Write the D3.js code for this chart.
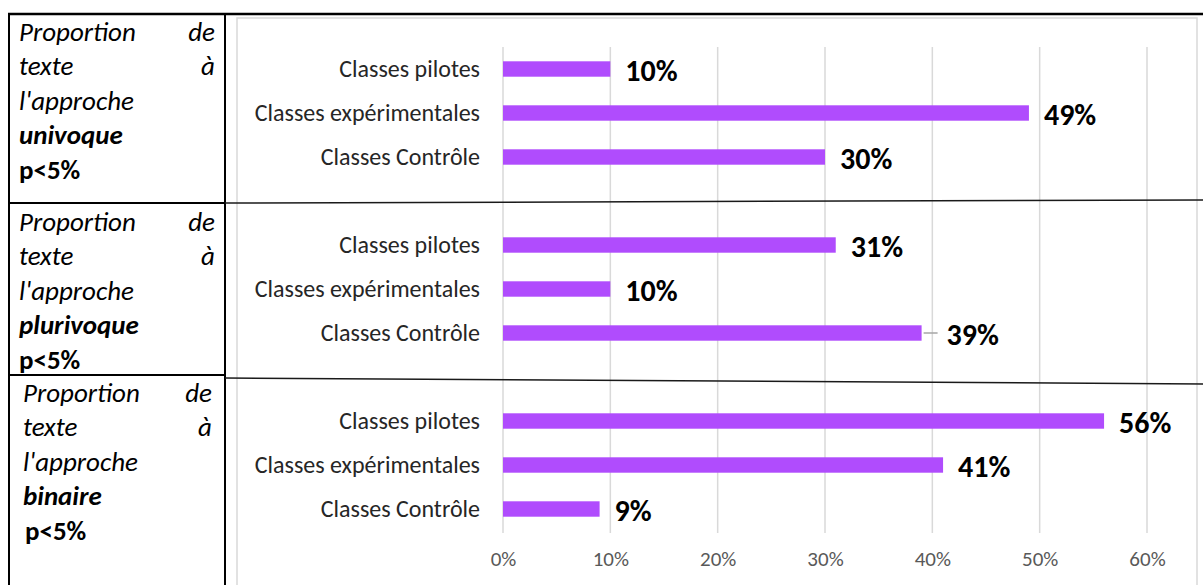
<!DOCTYPE html>
<html>
<head>
<meta charset="utf-8">
<script src="https://cdn.jsdelivr.net/npm/d3@7"></script>
<style>
    body { margin: 0; background: #fff; }
    svg { display: block; }
    text { font-family: Carlito, Calibri, Lato, sans-serif; }
</style>
</head>
<body>
<svg width="1203" height="585"></svg>
<script>
// data
var panels = ["univoque", "plurivoque", "binaire"];
var categories = ["Classes pilotes", "Classes expérimentales", "Classes Contrôle"];
var univoque = [0.10, 0.49, 0.30];
var plurivoque = [0.31, 0.10, 0.39];
var binaire = [0.56, 0.41, 0.09];
var tickValues = [0, 0.1, 0.2, 0.3, 0.4, 0.5, 0.6];
var leaderLines = [{panel: "plurivoque", cat: "Classes Contrôle"}];

var seriesByPanel = {univoque: univoque, plurivoque: plurivoque, binaire: binaire};

var svg = d3.select("svg");

var scaleX = d3.scaleLinear().domain([0, 0.6]).range([503, 1147]);
var scalePanel = d3.scaleBand().domain(panels).range([47, 575]);
var scaleY = d3.scaleBand().domain(categories)
    .range([0, 132])
    .paddingInner(0.65).paddingOuter(0.325);

// chart frame
svg.append("rect")
    .attr("x", 237).attr("y", 18)
    .attr("width", 960).attr("height", 620)
    .attr("fill", "none")
    .attr("stroke", "#d9d9d9")
    .attr("stroke-width", 1.5);

// gridlines
svg.append("g").selectAll("line")
    .data(tickValues)
    .enter().append("line")
    .attr("x1", function (d) { return scaleX(d); })
    .attr("x2", function (d) { return scaleX(d); })
    .attr("y1", 47).attr("y2", 533)
    .attr("stroke", "#d9d9d9")
    .attr("stroke-width", 1.5);

// x axis labels
var axisX = svg.append("g")
    .attr("transform", "translate(0,548)")
    .call(d3.axisBottom(scaleX).tickValues(tickValues).tickFormat(d3.format(".0%")).tickSize(0));
axisX.select(".domain").remove();
axisX.selectAll("text")
    .attr("fill", "#595959")
    .style("font-size", "21px")
    .style("font-family", "Carlito, Calibri, Lato, sans-serif");

// panels
var panelGroups = svg.selectAll(".panel")
    .data(panels)
    .enter().append("g")
    .attr("class", "panel")
    .attr("transform", function (p) { return "translate(0," + scalePanel(p) + ")"; });

function hasLeader(d) {
    return leaderLines.some(function (l) { return l.panel === d.panel && l.cat === d.cat; });
}

panelGroups.each(function (p) {
    var g = d3.select(this);
    var rows = categories.map(function (c, i) {
        return {panel: p, cat: c, value: seriesByPanel[p][i]};
    });
    var mid = function (d) { return scaleY(d.cat) + scaleY.bandwidth() / 2; };

    g.selectAll(".cat")
        .data(rows)
        .enter().append("text")
        .attr("class", "cat")
        .attr("x", 480)
        .attr("y", mid)
        .attr("dy", "0.35em")
        .attr("text-anchor", "end")
        .attr("fill", "#262626")
        .style("font-size", "24px")
        .text(function (d) { return d.cat; });

    g.selectAll(".bar")
        .data(rows)
        .enter().append("rect")
        .attr("class", "bar")
        .attr("x", scaleX(0))
        .attr("y", function (d) { return scaleY(d.cat); })
        .attr("width", function (d) { return scaleX(d.value) - scaleX(0); })
        .attr("height", scaleY.bandwidth())
        .attr("fill", "#b04cfd");

    g.selectAll(".lead")
        .data(rows.filter(hasLeader))
        .enter().append("line")
        .attr("class", "lead")
        .attr("x1", function (d) { return scaleX(d.value) + 2; })
        .attr("x2", function (d) { return scaleX(d.value) + 16; })
        .attr("y1", mid)
        .attr("y2", mid)
        .attr("stroke", "#a6a6a6")
        .attr("stroke-width", 1.5);

    g.selectAll(".val")
        .data(rows)
        .enter().append("text")
        .attr("class", "val")
        .attr("x", function (d) { return scaleX(d.value) + (hasLeader(d) ? 25 : 15); })
        .attr("y", function (d) { return mid(d) + 1.5; })
        .attr("dy", "0.35em")
        .attr("fill", "#000")
        .style("font-size", "30px")
        .style("font-weight", "bold")
        .text(function (d) { return d3.format(".0%")(d.value); });
});

// table on the left
var rowTops = [14, 203, 375];
var table = svg.append("g");

table.append("line").attr("x1", 8).attr("x2", 1203).attr("y1", 14).attr("y2", 14)
    .attr("stroke", "#000").attr("stroke-width", 2.5);
[9, 225].forEach(function (x) {
    table.append("line").attr("x1", x).attr("x2", x).attr("y1", 13).attr("y2", 585)
        .attr("stroke", "#000").attr("stroke-width", 2);
});
[203, 375].forEach(function (y) {
    table.append("line").attr("x1", 9).attr("x2", 225).attr("y1", y).attr("y2", y)
        .attr("stroke", "#000").attr("stroke-width", 2);
});
// slanted separators across the chart
table.append("line").attr("x1", 225).attr("x2", 1203).attr("y1", 203).attr("y2", 200)
    .attr("stroke", "#1a1a1a").attr("stroke-width", 1.5);
table.append("line").attr("x1", 225).attr("x2", 1203).attr("y1", 378).attr("y2", 384)
    .attr("stroke", "#1a1a1a").attr("stroke-width", 1.5);

var cells = table.selectAll(".cell")
    .data(panels)
    .enter().append("g")
    .attr("class", "cell")
    .attr("transform", function (p, i) {
        var indent = i === 2 ? 4 : 0;
        return "translate(" + (19 + indent) + "," + (rowTops[i] + 27 + (i === 1 ? 1 : 0)) + ")";
    });

cells.each(function (p, i) {
    var c = d3.select(this);
    var right = i === 2 ? 189 : 196;
    var step = 34.4;
    function t(x, y, s, anchor, italic, bold) {
        c.append("text")
            .attr("x", x).attr("y", y)
            .attr("text-anchor", anchor)
            .style("font-size", "27px")
            .style("font-style", italic ? "italic" : "normal")
            .style("font-weight", bold ? "bold" : "normal")
            .attr("fill", "#000")
            .text(s);
    }
    t(0, 0, "Proportion", "start", true, false);
    t(right, 0, "de", "end", true, false);
    t(0, step, "texte", "start", true, false);
    t(right, step, "à", "end", true, false);
    t(0, step * 2, "l'approche", "start", true, false);
    t(0, step * 3, p, "start", true, true);
    t(i === 2 ? 2 : 0, step * 4, "p<5%", "start", false, true);
});
</script>
</body>
</html>
